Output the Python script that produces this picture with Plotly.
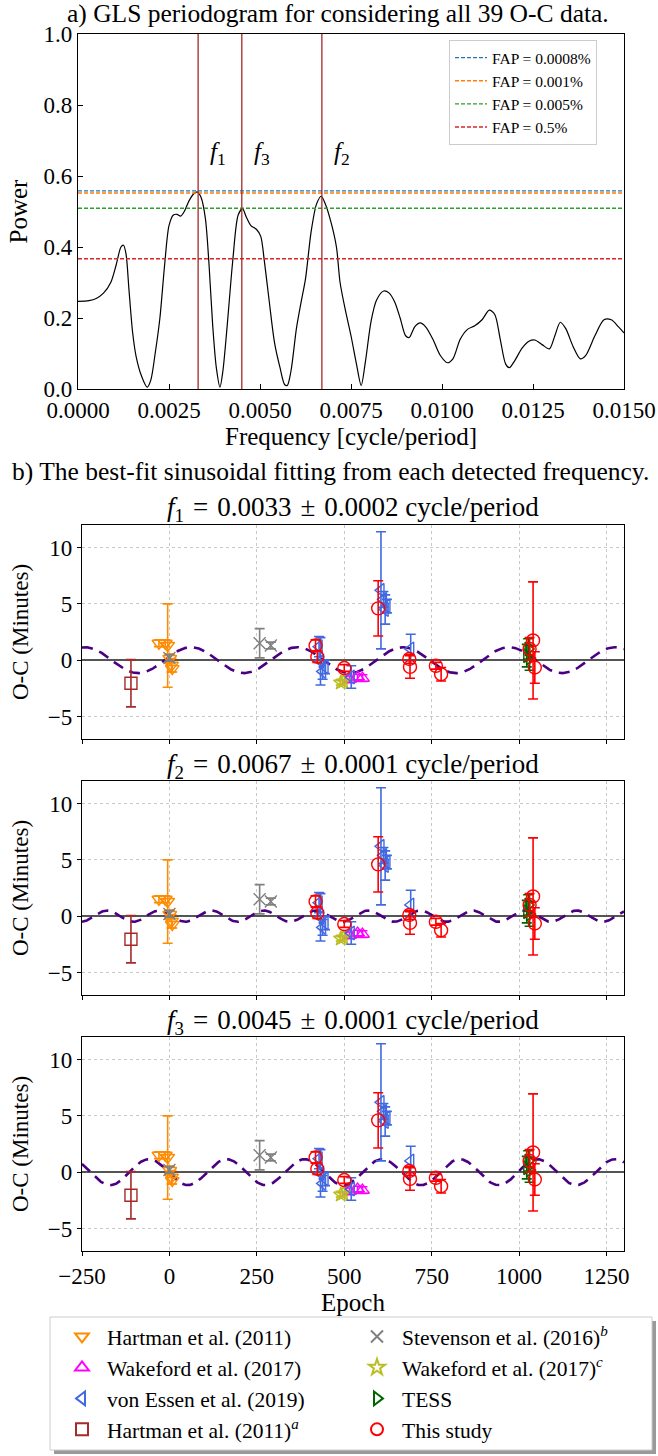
import numpy as np
import plotly.graph_objects as go

# ---------------- data: GLS periodogram ----------------
freq = [0.0000, 0.0003, 0.0005, 0.0007, 0.0009, 0.00105, 0.00118, 0.00125, 0.00132, 0.00140,
        0.00150, 0.00160, 0.00175, 0.00190, 0.00200, 0.00212, 0.00225, 0.00238, 0.00250, 0.00262,
        0.00272, 0.00282, 0.00292, 0.00305, 0.00318, 0.00328, 0.00338, 0.00350, 0.00360, 0.00370,
        0.00380, 0.00390, 0.00398, 0.00410, 0.00425, 0.00440, 0.00452, 0.00462, 0.00475, 0.00490,
        0.00502, 0.00512, 0.00525, 0.00540, 0.00555, 0.00568, 0.00575, 0.00585, 0.00600, 0.00612,
        0.00625, 0.00640, 0.00655, 0.00668, 0.00680, 0.00695, 0.00710, 0.00720, 0.00735, 0.00750,
        0.00765, 0.00778, 0.00790, 0.00805, 0.00820, 0.00840, 0.00855, 0.00870, 0.00885, 0.00900,
        0.00910, 0.00925, 0.00940, 0.00955, 0.00975, 0.00995, 0.01015, 0.01030, 0.01050, 0.01070,
        0.01090, 0.01110, 0.01130, 0.01145, 0.01160, 0.01175, 0.01185, 0.01200, 0.01220, 0.01240,
        0.01255, 0.01275, 0.01295, 0.01310, 0.01325, 0.01340, 0.01360, 0.01380, 0.01395, 0.01420,
        0.01445, 0.01465, 0.01485, 0.01500]
power = [0.247, 0.249, 0.255, 0.270, 0.300, 0.350, 0.400, 0.405, 0.380, 0.280,
         0.160, 0.090, 0.035, 0.005, 0.025, 0.100, 0.200, 0.350, 0.460, 0.490,
         0.492, 0.487, 0.500, 0.530, 0.550, 0.555, 0.540, 0.480, 0.350, 0.180,
         0.060, 0.005, 0.050, 0.180, 0.360, 0.490, 0.508, 0.485, 0.460, 0.450,
         0.430, 0.360, 0.250, 0.130, 0.060, 0.012, 0.010, 0.050, 0.170, 0.240,
         0.310, 0.440, 0.520, 0.543, 0.520, 0.470, 0.400, 0.300, 0.220, 0.150,
         0.070, 0.010, 0.080, 0.190, 0.250, 0.276, 0.270, 0.245, 0.200, 0.150,
         0.145, 0.175, 0.186, 0.175, 0.140, 0.095, 0.074, 0.085, 0.140, 0.168,
         0.178, 0.195, 0.222, 0.210, 0.140, 0.070, 0.060, 0.080, 0.115, 0.135,
         0.138, 0.125, 0.113, 0.150, 0.188, 0.170, 0.120, 0.085, 0.095, 0.150,
         0.195, 0.195, 0.175, 0.158]

fap_labels = ["FAP = 0.0008%", "FAP = 0.001%", "FAP = 0.005%", "FAP = 0.5%"]
fap_levels = [0.558, 0.552, 0.509, 0.367]
fap_colors = ["#1f77b4", "#ff7f0e", "#2ca02c", "#d62728"]

peak_labels = ["<i>f</i><sub>1</sub>", "<i>f</i><sub>3</sub>", "<i>f</i><sub>2</sub>"]
peak_freqs = [0.0033, 0.0045, 0.0067]

# ---------------- data: sinusoidal fits ----------------
fit_names = ["1", "2", "3"]
fit_freqs = [0.0033, 0.0067, 0.0045]
fit_freq_errs = [0.0002, 0.0001, 0.0001]
fit_amps = [1.15, 0.5, 1.15]
fit_peak_epochs = [62, 568, 608]

# ---------------- data: O-C measurements ----------------
hartman_epoch = [-30, -12, -5, 1, 6, 8]
hartman_oc = [1.5, 1.5, 1.3, 0.15, -0.45, -0.75]
hartman_err = [0.3, 0.3, 3.7, 0.4, 0.6, 0.3]

stevenson_epoch = [0, 258, 290]
stevenson_oc = [0.2, 1.5, 1.3]
stevenson_err = [0.3, 1.3, 0.3]

wakeford_epoch = [515, 538, 552]
wakeford_oc = [-1.7, -1.5, -1.6]
wakeford_err = [0.3, 0.25, 0.3]

wakefordc_epoch = [490, 497]
wakefordc_oc = [-2.0, -1.9]
wakefordc_err = [0.2, 0.2]

vonessen_epoch = [428, 432, 438, 445, 520, 605, 612, 617, 622, 690]
vonessen_oc = [1.2, -0.1, -1.0, -0.6, -1.5, 6.2, 5.4, 4.5, 4.8, 1.0]
vonessen_err = [0.9, 2.1, 0.7, 0.6, 1.0, 5.2, 0.7, 1.3, 0.6, 1.3]

tess_epoch = [1022, 1026, 1030]
tess_oc = [0.4, 1.0, 0.2]
tess_err = [1.0, 0.9, 1.1]

hartmana_epoch = [-110]
hartmana_oc = [-2.05]
hartmana_err = [2.1]

study_epoch = [418, 423, 500, 597, 686, 688, 762, 777, 1030, 1040, 1045]
study_oc = [1.3, 0.3, -0.7, 4.6, 0.1, -0.6, -0.5, -1.25, 1.0, 1.75, -0.65]
study_err = [0.5, 0.5, 0.3, 2.45, 0.4, 1.0, 0.3, 0.6, 1.0, 5.2, 1.4]

# legend order (row-major for a 2-column legend)
datasets = [
    ("Hartman et al. (2011)", hartman_epoch, hartman_oc, hartman_err, "#ff8c00", "triangle-down-open", 12),
    ("Stevenson et al. (2016)<sup><i>b</i></sup>", stevenson_epoch, stevenson_oc, stevenson_err, "#808080", "x-thin", 12),
    ("Wakeford et al. (2017)", wakeford_epoch, wakeford_oc, wakeford_err, "#ff00ff", "triangle-up-open", 12),
    ("Wakeford et al. (2017)<sup><i>c</i></sup>", wakefordc_epoch, wakefordc_oc, wakefordc_err, "#bcbd22", "star-open", 11),
    ("von Essen et al. (2019)", vonessen_epoch, vonessen_oc, vonessen_err, "#4169e1", "triangle-left-open", 12),
    ("TESS", tess_epoch, tess_oc, tess_err, "#006400", "triangle-right-open", 12),
    ("Hartman et al. (2011)<sup><i>a</i></sup>", hartmana_epoch, hartmana_oc, hartmana_err, "#a52a2a", "square-open", 12),
    ("This study", study_epoch, study_oc, study_err, "#ff0000", "circle-open", 13),
]

W, H = 658, 1456
FONT = "Liberation Serif"


def px_x(p):
    return p / W


def px_y(p):
    return 1 - p / H


fig = go.Figure()

# ---------- panel a ----------
fig.add_trace(go.Scatter(x=freq, y=power, mode="lines", line=dict(color="black", width=1.2, shape="spline", smoothing=0.8),
                         showlegend=False, xaxis="x", yaxis="y"))
for lab, lev, col in zip(fap_labels, fap_levels, fap_colors):
    fig.add_trace(go.Scatter(x=[0, 0.015], y=[lev, lev], mode="lines", name=lab,
                             line=dict(color=col, width=1.4, dash="4px,2px"),
                             legend="legend2", xaxis="x", yaxis="y"))
for lab, f in zip(peak_labels, peak_freqs):
    fig.add_trace(go.Scatter(x=[f, f], y=[0, 1], mode="lines", line=dict(color="#a52828", width=1.3),
                             showlegend=False, xaxis="x", yaxis="y"))
    fig.add_annotation(x=f + 0.00055, y=0.663, xref="x", yref="y", text=lab, showarrow=False,
                       xanchor="center", yanchor="middle",
                       font=dict(family=FONT, size=25, color="black"))

# ---------- panels b ----------
ep = np.linspace(-250, 1300, 800)
axes_ids = ["2", "3", "4"]
for i, ax in enumerate(axes_ids):
    model = fit_amps[i] * np.cos(2 * np.pi * fit_freqs[i] * (ep - fit_peak_epochs[i]))
    fig.add_trace(go.Scatter(x=ep, y=model, mode="lines", line=dict(color="#4b0082", width=2.6, dash="11px,7px"),
                             showlegend=False, xaxis="x" + ax, yaxis="y" + ax))
    for name, e, oc, err, col, sym, sz in datasets:
        fig.add_trace(go.Scatter(
            x=e, y=oc, mode="markers", name=name, showlegend=(i == 0), legend="legend",
            marker=dict(symbol=sym, size=sz, color=col, line=dict(color=col, width=1.4)),
            error_y=dict(type="data", array=err, visible=True, color=col, thickness=1.6, width=5),
            xaxis="x" + ax, yaxis="y" + ax))

# ---------- layout ----------
tickfont = dict(family=FONT, size=23, color="black")
axis_common = dict(showline=True, linecolor="black", linewidth=1.2, mirror=True, tickfont=tickfont,
                   tickcolor="black", tickwidth=1.2, tickangle=0)

panel_y = [(525, 739), (781, 995), (1037, 1251)]

layout = dict(
    width=W, height=H, margin=dict(l=0, r=0, t=0, b=0, autoexpand=False),
    paper_bgcolor="white", plot_bgcolor="white",
    font=dict(family=FONT, color="black"),
    xaxis=dict(domain=[px_x(78), px_x(624)], range=[0, 0.015], tickvals=[0, 0.0025, 0.005, 0.0075, 0.01, 0.0125, 0.015],
               tickformat=".4f", ticks="inside", ticklen=5, showgrid=False, zeroline=False, anchor="y",
               title=dict(text="Frequency [cycle/period]", font=dict(family=FONT, size=25), standoff=4), **axis_common),
    yaxis=dict(domain=[px_y(389), px_y(34)], range=[0, 1], tickvals=[0, 0.2, 0.4, 0.6, 0.8, 1.0], tickformat=".1f",
               ticks="inside", ticklen=5, showgrid=False, zeroline=False, anchor="x",
               title=dict(text="Power", font=dict(family=FONT, size=25), standoff=8), **axis_common),
    legend=dict(x=px_x(57), y=px_y(1316), xanchor="left", yanchor="top", orientation="h",
                entrywidth=240, entrywidthmode="pixels", itemwidth=40, bgcolor="rgba(0,0,0,0)", borderwidth=0,
                font=dict(family=FONT, size=21.5, color="black"), tracegroupgap=0, itemsizing="constant"),
    legend2=dict(x=px_x(449), y=px_y(40), xanchor="left", yanchor="top", bgcolor="white",
                 bordercolor="#cccccc", borderwidth=1, font=dict(family=FONT, size=15.5, color="black"),
                 tracegroupgap=0, itemwidth=32),
)

for i, ax in enumerate(axes_ids):
    top, bot = panel_y[i]
    layout["xaxis" + ax] = dict(domain=[px_x(82), px_x(624)], range=[-250, 1300], anchor="y" + ax,
                                tickvals=[-250, 0, 250, 500, 750, 1000, 1250], ticks="outside", ticklen=4,
                                showticklabels=(i == 2), showgrid=True, gridcolor="#c8c8c8", griddash="dot",
                                gridwidth=1, zeroline=False, **axis_common)
    layout["yaxis" + ax] = dict(domain=[px_y(bot), px_y(top)], range=[-7, 12], anchor="x" + ax,
                                tickvals=[-5, 0, 5, 10], ticktext=["\u22125", "0", "5", "10"], ticks="outside",
                                ticklen=4, showgrid=True, gridcolor="#c8c8c8", griddash="dot", gridwidth=1,
                                zeroline=True, zerolinecolor="#555555", zerolinewidth=2,
                                title=dict(text="O-C (Minutes)", font=dict(family=FONT, size=23), standoff=12),
                                **axis_common)
layout["xaxis4"]["ticktext"] = ["\u2212250", "0", "250", "500", "750", "1000", "1250"]
layout["xaxis4"]["title"] = dict(text="Epoch", font=dict(family=FONT, size=25), standoff=0)

fig.update_layout(**layout)

# titles
fig.add_annotation(x=px_x(338), y=px_y(14), xref="paper", yref="paper", text="a) GLS periodogram for considering all 39 O-C data.",
                   showarrow=False, xanchor="center", yanchor="middle", font=dict(family=FONT, size=25.5))
fig.add_annotation(x=px_x(330), y=px_y(472), xref="paper", yref="paper",
                   text="b) The best-fit sinusoidal fitting from each detected frequency.",
                   showarrow=False, xanchor="center", yanchor="middle", font=dict(family=FONT, size=25.5))
title_y = [509, 766, 1022]
for i in range(3):
    fig.add_annotation(x=px_x(353), y=px_y(title_y[i]), xref="paper", yref="paper",
                       text=(f"<i>f</i><sub>{fit_names[i]}</sub>\u2004=\u2004{fit_freqs[i]:.4f}\u2004\u00b1\u2004"
                             f"{fit_freq_errs[i]:.4f} cycle/period"),
                       showarrow=False, xanchor="center", yanchor="middle", font=dict(family=FONT, size=27))

# legend frame with shadow
fig.add_shape(type="rect", xref="paper", yref="paper", x0=px_x(54), x1=px_x(656), y0=px_y(1454), y1=px_y(1321),
              line=dict(width=0), fillcolor="#9a9a9a", layer="above")
fig.add_shape(type="rect", xref="paper", yref="paper", x0=px_x(50), x1=px_x(652), y0=px_y(1450), y1=px_y(1317),
              line=dict(width=1, color="#cccccc"), fillcolor="white", layer="above")

fig.write_html("out.html")
